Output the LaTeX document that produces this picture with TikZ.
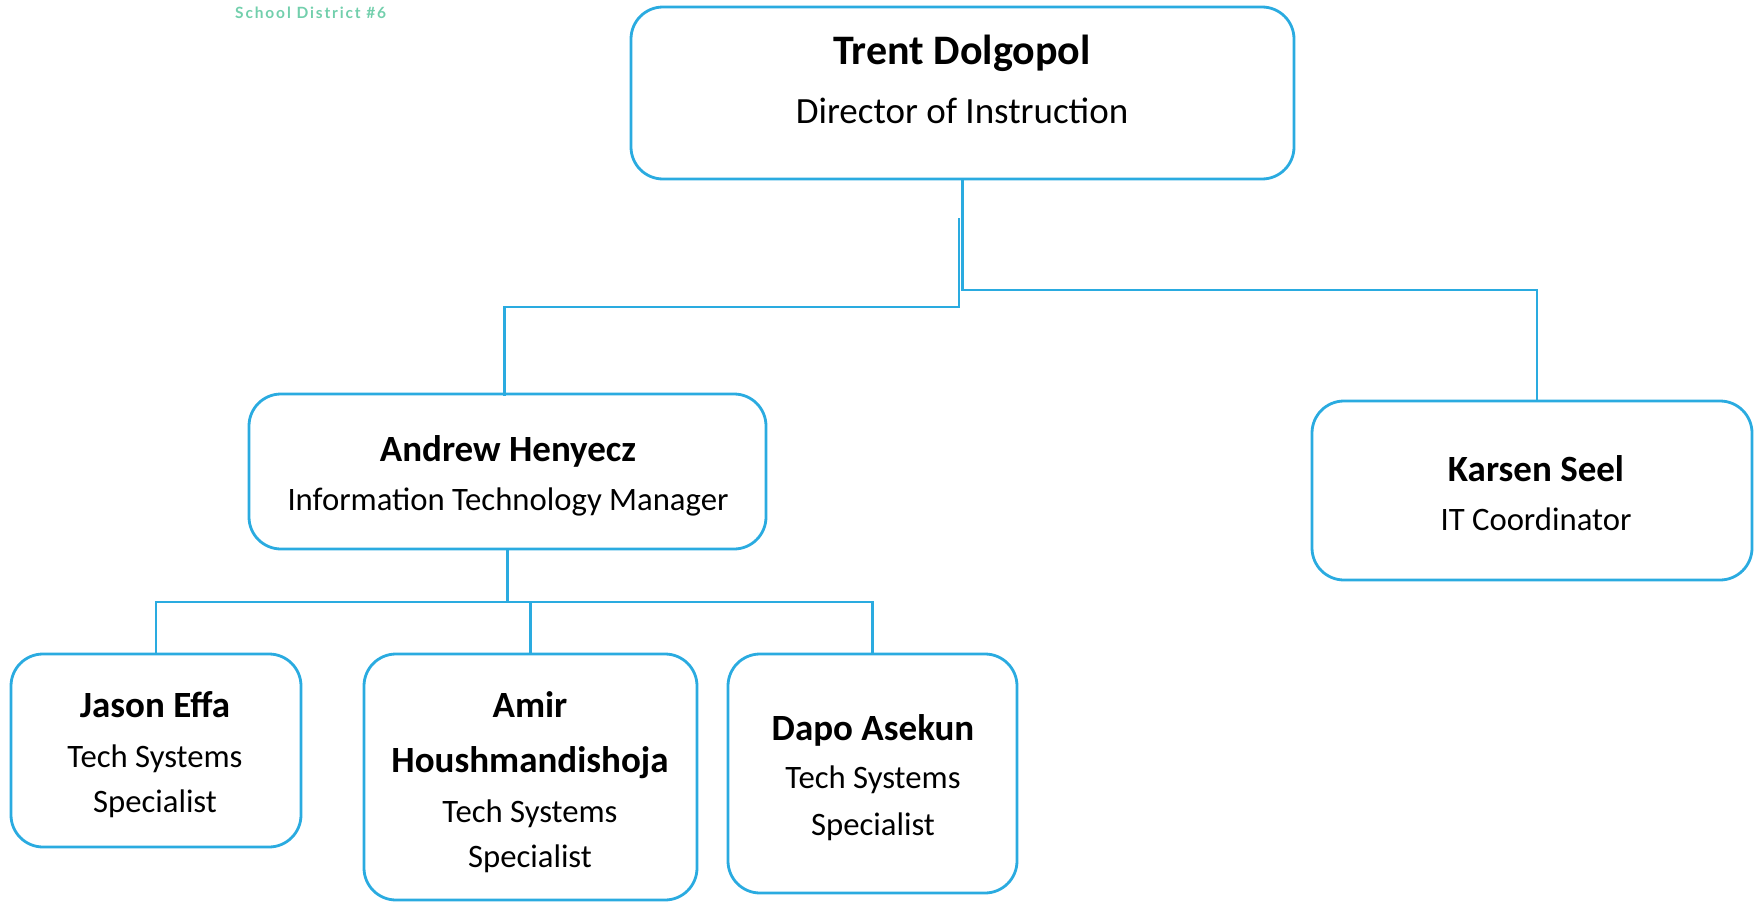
\documentclass[tikz,border=0pt]{standalone}
\usepackage{fontspec}
\setmainfont{Carlito}
\newfontfamily\hdrfont[LetterSpace=12.0]{Lato}
\definecolor{lineblue}{HTML}{2AABE0}
\definecolor{hdrgreen}{HTML}{72CFAC}
\tikzset{
  box/.style={draw=lineblue, line width=2.8pt, rounded corners=32pt, inner sep=0pt, fill=none},
  conn/.style={draw=lineblue, line width=2.8pt},
  nm/.style={anchor=base, inner sep=0pt, font=\bfseries\fontsize{37}{40}\selectfont},
  ttl/.style={anchor=base, inner sep=0pt, font=\fontsize{32.7}{36}\selectfont},
}
\begin{document}
\begin{tikzpicture}[x=1pt,y=-1pt]
\useasboundingbox (0,0) rectangle (1754,902);

\node[anchor=base west, inner sep=0pt, text=hdrgreen, font=\hdrfont\bfseries\fontsize{15.5}{17}\selectfont] (hdr) at (235,18) {School District \#6};

% boxes
\node[box, minimum width=663pt, minimum height=172pt] (top) at (962.5,93) {};
\node[box, minimum width=517pt, minimum height=155pt] (andrew) at (507.5,471.5) {};
\node[box, minimum width=440pt, minimum height=179pt] (karsen) at (1532,490.5) {};
\node[box, minimum width=290pt, minimum height=193pt] (jason) at (156,750.5) {};
\node[box, minimum width=333pt, minimum height=246pt] (amir) at (530.5,777) {};
\node[box, minimum width=289pt, minimum height=239pt] (dapo) at (872.5,773.5) {};

% texts
\node[nm, font=\bfseries\fontsize{42}{44}\selectfont] (topname) at (962,64) {Trent Dolgopol};
\node[ttl, font=\fontsize{37}{40}\selectfont] (toptitle) at (962,123) {Director of Instruction};

\node[nm] (andrewname) at (508,461) {Andrew Henyecz};
\node[ttl] (andrewtitle) at (508,510) {Information Technology Manager};

\node[nm] (karsenname) at (1536,481) {Karsen Seel};
\node[ttl] (karsentitle) at (1536,530) {IT Coordinator};

\node[nm] (jasonname) at (155,717) {Jason Effa};
\node[ttl] (jasont1) at (155,767) {Tech Systems};
\node[ttl] (jasont2) at (155,812) {Specialist};

\node[nm] (amirname1) at (530,717) {Amir};
\node[nm] (amirname2) at (530,772) {Houshmandishoja};
\node[ttl] (amirt1) at (530,822) {Tech Systems};
\node[ttl] (amirt2) at (530,867) {Specialist};

\node[nm] (daponame) at (873,740) {Dapo Asekun};
\node[ttl] (dapot1) at (873,788) {Tech Systems};
\node[ttl] (dapot2) at (873,835) {Specialist};

% connectors
\coordinate (jog) at (959,218);
\coordinate (rbar) at (0,290);
\coordinate (lbar) at (0,307);
\coordinate (bar) at (0,602);
\draw[conn] (top.south) -- (top.south |- rbar) -| ([xshift=5pt]karsen.north);
\draw[conn] (jog) -- (jog |- lbar) -| ([xshift=-3pt,yshift=-3pt]andrew.north);
\draw[conn] (andrew.south) -- (andrew.south |- bar);
\draw[conn] (jason.north) -- (jason.north |- bar) -| (dapo.north);
\draw[conn] (amir.north) -- (amir.north |- bar);
\end{tikzpicture}
\end{document}
